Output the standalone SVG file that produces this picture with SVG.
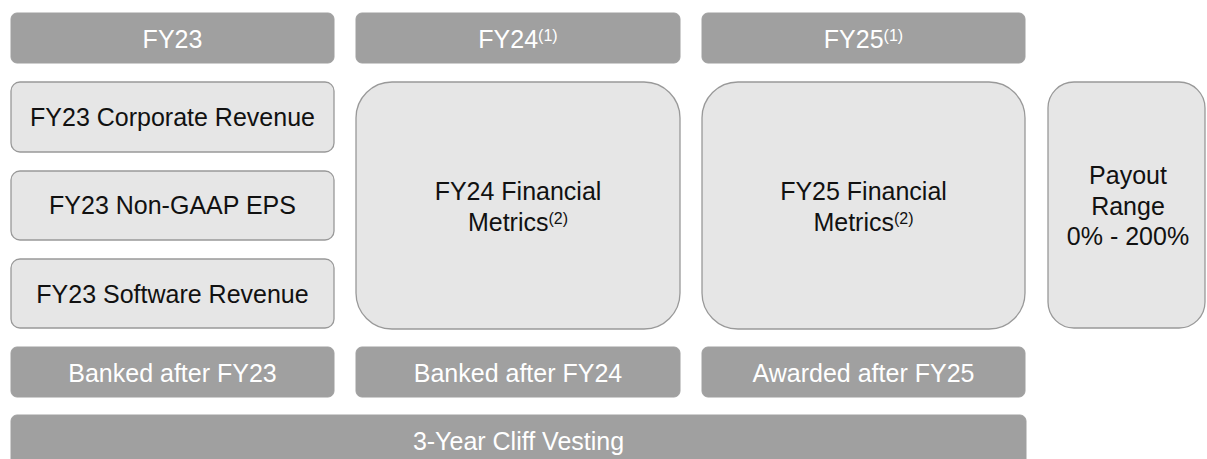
<svg xmlns="http://www.w3.org/2000/svg" width="1207" height="459" viewBox="0 0 1207 459">
<style>
.dark{fill:#a0a0a0;stroke:#a0a0a0;stroke-width:1}
.light{fill:#e6e6e6;stroke:#999999;stroke-width:1.3}
text{font-family:"Liberation Sans",Arial,sans-serif;font-size:25px;text-anchor:middle}
.w{fill:#ffffff}
.k{fill:#111111}
.sup{font-size:16px}
</style>
<rect width="1207" height="459" fill="#ffffff"/>
<g id="hdr-fy23"><rect class="dark" x="11" y="13" width="323" height="50" rx="6"/><text class="w" x="172.5" y="48">FY23</text></g>
<g id="hdr-fy24"><rect class="dark" x="356" y="13" width="324" height="50" rx="6"/><text class="w" x="518" y="48">FY24<tspan class="sup" dy="-7">(1)</tspan></text></g>
<g id="hdr-fy25"><rect class="dark" x="702" y="13" width="323" height="50" rx="6"/><text class="w" x="863.5" y="48">FY25<tspan class="sup" dy="-7">(1)</tspan></text></g>
<g id="fy23-corp"><rect class="light" x="11" y="82" width="323" height="70" rx="9"/><text class="k" x="172.5" y="126">FY23 Corporate Revenue</text></g>
<g id="fy23-eps"><rect class="light" x="11" y="171" width="323" height="69" rx="9"/><text class="k" x="172.5" y="214">FY23 Non-GAAP EPS</text></g>
<g id="fy23-sw"><rect class="light" x="11" y="259" width="323" height="69" rx="9"/><text class="k" x="172.5" y="303">FY23 Software Revenue</text></g>
<g id="fy24-metrics"><rect class="light" x="356" y="82" width="324" height="247" rx="36"/><text class="k" x="518" y="200">FY24 Financial</text><text class="k" x="518" y="231">Metrics<tspan class="sup" dy="-7">(2)</tspan></text></g>
<g id="fy25-metrics"><rect class="light" x="702" y="82" width="323" height="247" rx="36"/><text class="k" x="863.5" y="200">FY25 Financial</text><text class="k" x="863.5" y="231">Metrics<tspan class="sup" dy="-7">(2)</tspan></text></g>
<g id="payout"><rect class="light" x="1048" y="82" width="157" height="246" rx="26"/><text class="k" x="1128" y="184">Payout</text><text class="k" x="1128" y="215">Range</text><text class="k" x="1128" y="245">0% - 200%</text></g>
<g id="ftr-fy23"><rect class="dark" x="11" y="347" width="323" height="50" rx="6"/><text class="w" x="172.5" y="382">Banked after FY23</text></g>
<g id="ftr-fy24"><rect class="dark" x="356" y="347" width="324" height="50" rx="6"/><text class="w" x="518" y="382">Banked after FY24</text></g>
<g id="ftr-fy25"><rect class="dark" x="702" y="347" width="323" height="50" rx="6"/><text class="w" x="863.5" y="382">Awarded after FY25</text></g>
<g id="vesting"><rect class="dark" x="11" y="415" width="1015" height="52" rx="6"/><text class="w" x="518.5" y="450">3-Year Cliff Vesting</text></g>
<g id="connectors"></g>
</svg>
